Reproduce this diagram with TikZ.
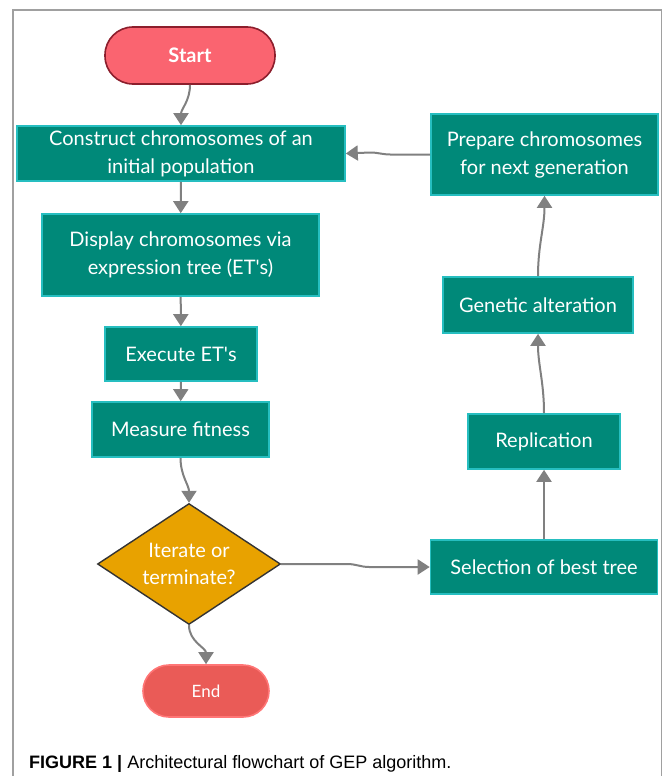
\documentclass[tikz,border=0pt]{standalone}
\usepackage{fontspec}
\setmainfont{Lato}
\newfontfamily\capfont{Liberation Sans}
\usetikzlibrary{arrows.meta,shapes.geometric}
\definecolor{stepteal}{RGB}{0,137,121}
\definecolor{stepedge}{RGB}{38,190,192}
\definecolor{startred}{RGB}{250,100,112}
\definecolor{startedge}{RGB}{140,30,44}
\definecolor{endred}{RGB}{234,91,87}
\definecolor{endedge}{RGB}{255,118,118}
\definecolor{decorange}{RGB}{232,162,0}
\definecolor{flowgray}{RGB}{128,128,128}
\begin{document}
\begin{tikzpicture}[x=1pt, y=-1pt, >={Triangle[length=12pt,width=15pt]},
    stepbox/.style={draw=stepedge, line width=1.6pt, fill=stepteal, text=white, inner sep=0pt, align=center, font=\fontsize{20}{28}\selectfont},
    terminal/.style={rounded corners=28pt, line width=1.6pt, text=white, inner sep=0pt, minimum height=57pt},
    flow/.style={->, draw=flowgray, line width=2pt}]
    \useasboundingbox (0,0) rectangle (663,776);
    \draw [flowgray!75, line width=1.4pt] (13,776)--(13,10)--(661.5,10)--(661.5,776);
    % left column
    \node (start) [terminal, draw=startedge, fill=startred, minimum width=170pt, font=\bfseries\fontsize{20}{22}\selectfont] at (190,55.5) {Start};
    \node (construct) [stepbox, minimum width=328pt, minimum height=55pt] at (181,153.5) {Construct chromosomes of an\\initial population};
    \node (display) [stepbox, minimum width=277pt, minimum height=82pt] at (180.5,255) {Display chromosomes via\\expression tree (ET\textquotesingle s)};
    \node (execute) [stepbox, minimum width=152pt, minimum height=54pt] at (181,354) {Execute ET\textquotesingle s};
    \node (measure) [stepbox, minimum width=177pt, minimum height=55pt] at (180.5,429.5) {Measure fitness};
    \node (decide) [diamond, draw=black!80, line width=1.4pt, fill=decorange, text=white, inner sep=0pt, aspect=1.51, minimum width=183pt, minimum height=121pt, align=center, font=\fontsize{20}{27}\selectfont] at (189,564) {Iterate or\\terminate?};
    \node (finish) [terminal, draw=endedge, fill=endred, minimum width=126pt, minimum height=52pt, rounded corners=26pt, font=\fontsize{17}{20}\selectfont] at (206,691) {End};
    % right column
    \node (select) [stepbox, minimum width=227pt, minimum height=54pt] at (544,567) {Selection of best tree};
    \node (replicate) [stepbox, minimum width=152pt, minimum height=55pt] at (544,441.5) {Replication};
    \node (alter) [stepbox, minimum width=190pt, minimum height=56pt] at (538,305) {Genetic alteration};
    \node (prepare) [stepbox, minimum width=227pt, minimum height=81pt] at (544.5,154.5) {Prepare chromosomes\\for next generation};
    % connectors
    \draw [flow] (start) to[out=-90, in=90] (construct);
    \draw [flow] (construct) -- (display);
    \draw [flow] (display) -- (execute);
    \draw [flow] (execute) -- (measure);
    \draw [flow] (measure) to[out=-90, in=90] (decide);
    \draw [flow] (decide.south) to[out=-90, in=90] (finish);
    \draw [flow] (decide.east) -- ++(66,0) to[out=0, in=180] ++(22,3) -- (select.west);
    \draw [flow] (select) -- (replicate);
    \draw [flow] (replicate) to[out=90, in=-90] (alter);
    \draw [flow] (alter) to[out=90, in=-90] (prepare);
    \draw [flow] (prepare.west) -- ++(-40,0) to[out=180, in=0] ++(-20,-2) -- (construct.east);
    % caption
    \node (caption) [anchor=base west, inner sep=0pt, font=\capfont\fontsize{18}{20}\selectfont] at (29,768) {\textbf{FIGURE 1 |} Architectural flowchart of GEP algorithm.};
\end{tikzpicture}
\end{document}
